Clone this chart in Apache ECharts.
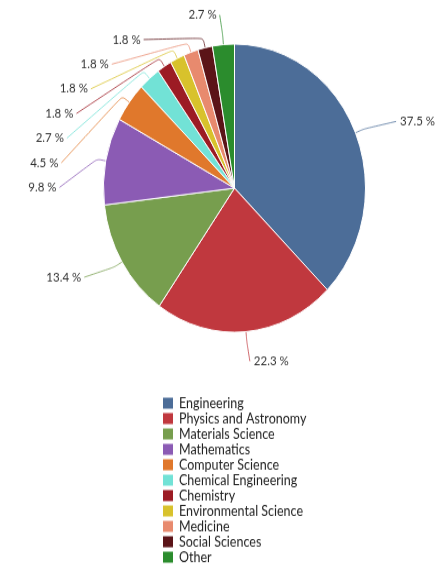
<!DOCTYPE html>
<html>
<head>
<meta charset="utf-8">
<script src="https://cdn.jsdelivr.net/npm/echarts@6/dist/echarts.min.js"></script>
<style>
  html, body { margin: 0; padding: 0; background: #fff; overflow: hidden; }
  #wrap { width: 448px; height: 576px; overflow: hidden; }
  /* the chart is drawn slightly squat, then stretched vertically */
  #chart { width: 448px; height: 524px; transform: scaleY(1.1); transform-origin: 0 0; }
</style>
</head>
<body>
<div id="wrap"><div id="chart"></div></div>
<script>
const categories = [
  'Engineering', 'Physics and Astronomy', 'Materials Science', 'Mathematics',
  'Computer Science', 'Chemical Engineering', 'Chemistry', 'Environmental Science',
  'Medicine', 'Social Sciences', 'Other'
];
const shares = [37.5, 22.3, 13.4, 9.8, 4.5, 2.7, 1.8, 1.8, 1.8, 1.8, 2.7];
const colors = [
  '#4c6d98', '#c0383e', '#779e4e', '#8b5bb4', '#e0782c', '#72e2d6',
  '#9c1b24', '#d8c22c', '#e88a6e', '#5b1418', '#2b8c2d'
];

// pie geometry (in the unstretched drawing space)
const CX = 234.5, CY = 171, R = 131;
// label anchors sit on a wider ellipse around the pie
const LRX = 175, LRY = 158, STEP = 22.4;

const total = shares.reduce((s, v) => s + v, 0);
let acc = 0;
const anchors = shares.map(v => {
  const a = (acc + v / 2) / total * Math.PI * 2;   // clockwise from 12 o'clock
  acc += v;
  return {
    a,
    left: Math.sin(a) < 0,
    x: CX + LRX * Math.sin(a),
    y: CY - LRY * Math.cos(a)
  };
});

// spread the crowded left-hand labels downwards with an even vertical step
const leftOrder = anchors.map((_, i) => i)
  .filter(i => anchors[i].left)
  .sort((i, j) => anchors[i].y - anchors[j].y);
let prevY = -Infinity;
leftOrder.forEach(i => {
  const p = anchors[i];
  if (p.y < prevY + STEP) {
    p.y = prevY + STEP;
    const k = (p.y - CY) / LRY;
    p.x = CX - LRX * Math.sqrt(Math.max(0, 1 - k * k));
  }
  prevY = p.y;
});

function placeLabel(params) {
  const p = anchors[params.dataIndex];
  const ex = CX + R * Math.sin(p.a), ey = CY - R * Math.cos(p.a);
  const bx = CX + (R + 9) * Math.sin(p.a), by = CY - (R + 9) * Math.cos(p.a);
  return {
    x: p.left ? p.x - 3 : p.x + 4,
    y: p.y,
    align: p.left ? 'right' : 'left',
    verticalAlign: 'middle',
    labelLinePoints: [[ex, ey], [bx, by], [p.x, p.y]]
  };
}

const chart = echarts.init(document.getElementById('chart'), null, { renderer: 'canvas' });

chart.setOption({
  animation: false,
  color: colors,
  legend: {
    orient: 'vertical',
    left: 161,
    top: 359.5,
    height: 164,
    padding: 0,
    icon: 'rect',
    itemWidth: 12,
    itemHeight: 12,
    itemGap: 0,
    textStyle: { fontFamily: 'Lato', fontSize: 12.5, lineHeight: 12, color: '#222' },
    data: categories
  },
  series: [{
    type: 'pie',
    center: [CX, CY],
    radius: R,
    startAngle: 90,
    clockwise: true,
    avoidLabelOverlap: false,
    itemStyle: { borderColor: '#fff', borderWidth: 1 },
    label: {
      show: true,
      fontFamily: 'Lato',
      fontSize: 11.5,
      color: '#333',
      formatter: p => p.value.toFixed(1) + ' %'
    },
    labelLine: {
      show: true,
      smooth: 0.25,
      lineStyle: { width: 1, opacity: 0.75 }
    },
    labelLayout: placeLabel,
    data: categories.map((c, i) => ({ name: c, value: shares[i] }))
  }]
});
</script>
</body>
</html>
